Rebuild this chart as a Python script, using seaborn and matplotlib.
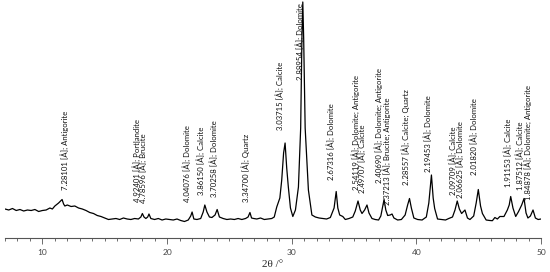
import numpy as np
import pandas as pd
import seaborn as sns
import matplotlib.pyplot as plt

# pattern: 2theta (deg) and intensity (arb.)
two_theta = [7.0, 7.3, 7.6, 7.9, 8.2, 8.5, 8.8, 9.1, 9.4, 9.7, 10.0, 10.3, 10.6, 10.8, 11.0, 11.3,
             11.58, 11.7, 11.8, 12.0, 12.3, 12.6, 12.9, 13.2, 13.5, 13.8, 14.1, 14.4, 14.7, 15.0,
             15.3, 15.6, 15.9, 16.2, 16.5, 16.8, 17.1, 17.4, 17.7, 17.9, 18.02, 18.15, 18.3, 18.45,
             18.55, 18.7, 19.0, 19.3, 19.6, 19.9, 20.2, 20.5, 20.8, 21.1, 21.4, 21.7, 21.9, 22.01,
             22.15, 22.4, 22.7, 22.9, 23.03, 23.2, 23.4, 23.6, 23.85, 24.02, 24.2, 24.5, 24.8, 25.1,
             25.4, 25.7, 26.0, 26.3, 26.5, 26.65, 26.78, 26.95, 27.2, 27.5, 27.8, 28.1, 28.4, 28.6,
             28.8, 29.05, 29.2, 29.35, 29.47, 29.6, 29.73, 29.9, 30.09, 30.3, 30.54, 30.72, 30.82,
             30.89, 30.96, 31.08, 31.34, 31.62, 31.9, 32.2, 32.5, 32.8, 33.1, 33.4, 33.57, 33.7,
             33.85, 34.1, 34.3, 34.6, 34.9, 35.1, 35.32, 35.5, 35.64, 35.85, 36.04, 36.2, 36.44,
             36.7, 36.97, 37.15, 37.41, 37.55, 37.7, 37.9, 38.05, 38.2, 38.5, 38.8, 39.1, 39.3,
             39.45, 39.6, 39.8, 40.1, 40.46, 40.8, 41.0, 41.21, 41.35, 41.47, 41.7, 42.0, 42.34,
             42.6, 42.9, 43.1, 43.28, 43.45, 43.63, 43.9, 44.1, 44.3, 44.6, 44.8, 44.97, 45.15,
             45.3, 45.6, 45.9, 46.1, 46.3, 46.5, 46.7, 47.03, 47.3, 47.45, 47.57, 47.75, 47.97,
             48.2, 48.45, 48.64, 48.8, 48.95, 49.15, 49.36, 49.55, 49.77, 50.0]
intensity = [29, 28, 29.5, 27.5, 28.5, 27, 28, 27.5, 28.5, 26.5, 27.5, 28, 30, 29, 32, 35,
             38.5, 34, 32, 33, 31.5, 32, 30, 29, 27.5, 25.5, 24.5, 22.5, 21.5, 20,
             18.5, 19, 19.5, 18.5, 20, 19, 18.5, 19.5, 19, 21, 24.5, 21, 19.5, 21,
             24, 19.5, 18.5, 19.5, 18, 19, 18.5, 18, 19, 17.5, 16.5, 18, 22, 26,
             19, 18.5, 19.5, 26, 33, 26, 21, 20.5, 23, 28.5, 21, 19.5, 18.5, 19,
             18.5, 19.5, 18.5, 19.5, 21, 25.5, 20, 19.5, 19, 20, 18.5, 19, 19.5, 21,
             31, 40, 58, 85, 95, 70, 51, 30, 21.5, 28, 51, 110, 200,
             236, 200, 110, 48, 23, 21, 20, 19.5, 19, 20.5, 30, 46.5, 30,
             23, 21.5, 18.5, 19.5, 21, 27, 37, 28, 24.5, 28, 33, 25, 19.5,
             18.5, 18, 22, 38.5, 28, 22.5, 23, 24, 20, 18, 18.5, 23, 33,
             39.5, 30, 20, 18.5, 18, 21, 35, 63, 40, 29.5, 19, 18.5, 18,
             19.5, 21, 28, 37, 29, 24.5, 28, 20, 18.5, 22, 35, 48.5, 32,
             24.5, 18, 17.5, 17.3, 20.5, 19, 21.5, 21.5, 28, 33, 41.5, 30, 21.5,
             26.5, 33, 39.5, 25, 20, 22, 28, 20, 18.5, 19]

# peak labels: text, 2theta of the label, height of the label foot
label_text = ["7.28101 [Å]; Antigorite", "4.92401 [Å]; Portlandite", "4.78596 [Å]; Brucite",
              "4.04076 [Å]; Dolomite", "3.86150 [Å]; Calcite", "3.70258 [Å]; Dolomite",
              "3.34700 [Å]; Quartz", "3.03715 [Å]; Calcite", "2.88954 [Å]; Dolomite",
              "2.67316 [Å]; Dolomite", "2.54119 [Å]; Dolomite; Antigorite", "2.49707 [Å]; Calcite",
              "2.40690 [Å]; Dolomite; Antigorite", "2.37213 [Å]; Brucite; Antigorite",
              "2.28557 [Å]; Calcite; Quartz", "2.19453 [Å]; Dolomite", "2.09709 [Å]; Calcite",
              "2.06625 [Å]; Dolomite", "2.01820 [Å]; Dolomite", "1.91153 [Å]; Calcite",
              "1.87512 [Å]; Calcite", "1.84878 [Å]; Dolomite; Antigorite"]
label_pos = [11.77, 17.54, 18.07, 21.56, 22.69, 23.70, 26.33, 29.07, 30.62, 33.15, 35.10, 35.64,
             36.98, 37.65, 39.12, 40.87, 42.88, 43.49, 44.62, 47.31, 48.29, 48.91]
label_height = [48, 36, 35, 36, 43, 41, 36, 108, 158, 58, 48, 45, 55, 33, 53, 66, 43, 40, 63, 51, 48, 38]

df = pd.DataFrame({"two_theta": two_theta, "intensity": intensity})

sns.set_style("white")
plt.rcParams["font.family"] = ["Lato", "DejaVu Sans"]

fig = plt.figure(figsize=(5.5, 2.72), dpi=100)
ax = fig.add_axes([5 / 550, 34 / 272, 536 / 550, 238 / 272])

sns.lineplot(data=df, x="two_theta", y="intensity", ax=ax, color="black", lw=0.9)

for txt, xp, yp in zip(label_text, label_pos, label_height):
    ax.text(xp, yp, txt, rotation=90, ha="center", va="bottom", fontsize=5.6, color="#111111")

ax.set_xlim(7, 50)
ax.set_ylim(0, 238)
ax.set_yticks([])
ax.set_ylabel("")
ax.set_xticks([10, 20, 30, 40, 50])
ax.set_xticks(np.arange(7, 51, 1), minor=True)
ax.tick_params(axis="x", which="major", direction="out", length=4, width=0.6, color="#555555",
               labelsize=6, labelcolor="#444444", bottom=True, pad=4)
ax.tick_params(axis="x", which="minor", direction="out", length=2.5, width=0.6, color="#555555",
               bottom=True)
for s in ["top", "left", "right"]:
    ax.spines[s].set_visible(False)
ax.spines["bottom"].set_color("#555555")
ax.spines["bottom"].set_linewidth(0.8)
ax.set_xlabel("2θ /°", fontsize=8, family="Liberation Serif", labelpad=3)

fig.savefig("out.png", dpi=100)
